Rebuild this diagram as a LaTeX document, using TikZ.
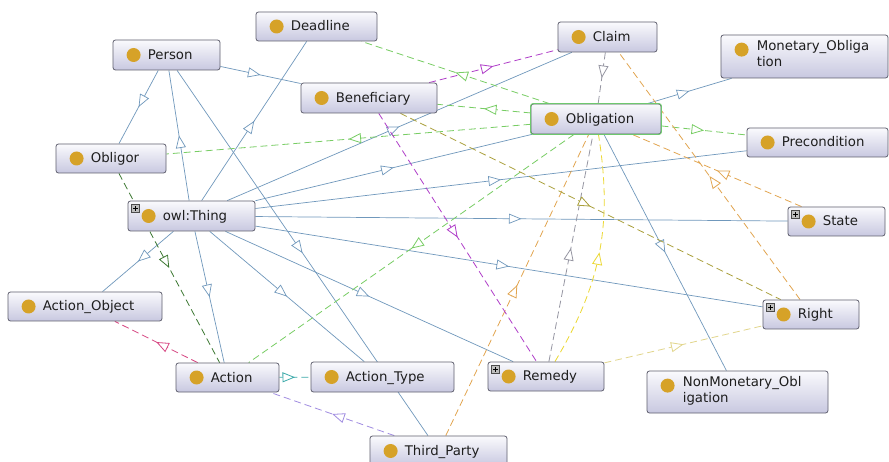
\documentclass[tikz,border=0pt]{standalone}
\usepackage{fontspec}
\setmainfont{DejaVu Sans}
\usetikzlibrary{arrows.meta,decorations.markings,backgrounds}
\pgfdeclarelayer{edgelayer}
\pgfsetlayers{background,edgelayer,main}
\definecolor{nodeborder}{RGB}{95,95,110}
\definecolor{nodetop}{RGB}{250,250,253}
\definecolor{nodebot}{RGB}{200,200,224}
\definecolor{dotc}{RGB}{214,162,40}
\definecolor{txtc}{RGB}{30,30,30}
\definecolor{selc}{RGB}{110,200,110}
\definecolor{isac}{RGB}{112,152,188}
\definecolor{greenc}{RGB}{120,205,100}
\definecolor{purplec}{RGB}{175,60,200}
\definecolor{grayc}{RGB}{150,150,162}
\definecolor{orangec}{RGB}{226,165,80}
\definecolor{yelc}{RGB}{236,216,50}
\definecolor{paleyelc}{RGB}{226,214,140}
\definecolor{olivec}{RGB}{170,160,60}
\definecolor{dgreenc}{RGB}{60,120,50}
\definecolor{pinkc}{RGB}{215,70,130}
\definecolor{tealc}{RGB}{60,170,170}
\definecolor{lavc}{RGB}{160,140,225}
\tikzset{
  cls/.style={draw=nodeborder, line width=0.8pt, rounded corners=2.5pt, top color=nodetop, bottom color=nodebot, inner sep=0pt},
  lbl/.style={anchor=base west, font=\fontsize{13.3}{15.5}\selectfont, text=txtc, inner sep=0pt, align=left},
  midarrow/.style={postaction={decorate}, decoration={markings, mark=at position 0.5 with {\arrow{Triangle[open, length=12.5pt, width=10pt, fill=white]}}}},
  isa/.style={color=isac, line width=0.7pt, midarrow},
  rel/.style={color=#1, line width=0.8pt, dash pattern=on 7pt off 4pt, midarrow},
  plusbox/.style={draw=black!70, fill=black!25, line width=0.4pt},
}
\newcommand\oclass[6]{%
  \node[cls, minimum width=#4pt, minimum height=#5pt] (#1) at (#2,#3) {};
  \fill[dotc] ([xshift=21pt]#1.west) circle (7pt);
  \node[lbl] at ([xshift=35pt,yshift=-4.5pt]#1.west) {#6};
}
\newcommand\oclasstwo[6]{%
  \node[cls, minimum width=#4pt, minimum height=#5pt] (#1) at (#2,#3) {};
  \fill[dotc] ([xshift=21pt,yshift=-15pt]#1.north west) circle (7pt);
  \node[lbl, anchor=north west] at ([xshift=36pt,yshift=-6pt]#1.north west) {#6};
}
\newcommand\expandmark[1]{%
  \draw[plusbox] ([xshift=4pt,yshift=-4pt]#1.north west) rectangle ++(8pt,-8pt);
  \draw[black, line width=0.6pt] ([xshift=5.8pt,yshift=-8pt]#1.north west) -- ++(4.4pt,0pt);
  \draw[black, line width=0.6pt] ([xshift=8pt,yshift=-5.8pt]#1.north west) -- ++(0pt,-4.4pt);
}
\begin{document}
\begin{tikzpicture}[x=1pt,y=-1pt]
\useasboundingbox (0,0) rectangle (889,462);
\begin{pgfonlayer}{background}
\fill[white] (0,0) rectangle (889,462);
\end{pgfonlayer}
% classes
\oclass{deadline}{316.5}{26.5}{121}{29}{Deadline}
\oclass{person}{166.5}{55}{107}{30}{Person}
\oclass{claim}{607.5}{37}{99}{30}{Claim}
\oclasstwo{monetary}{804.5}{56.5}{167}{43}{Monetary\_Obliga\\tion}
\oclass{beneficiary}{369}{98}{136}{30}{Beneficiary}
\oclass{obligation}{596}{119}{130}{30}{Obligation}
\draw[selc, line width=1pt, rounded corners=2.5pt] (obligation.south west) rectangle (obligation.north east);
\oclass{precondition}{817.5}{142.5}{141}{29}{Precondition}
\oclass{obligor}{111}{158.5}{110}{29}{Obligor}
\oclass{thing}{191.5}{216}{127}{30}{owl:Thing}
\expandmark{thing}
\oclass{state}{836.5}{221.5}{97}{29}{State}
\expandmark{state}
\oclass{actionobject}{85}{306.5}{154}{29}{Action\_Object}
\oclass{right}{811}{314.5}{96}{29}{Right}
\expandmark{right}
\oclass{action}{227.5}{377.5}{103}{29}{Action}
\oclass{actiontype}{382.5}{377}{143}{30}{Action\_Type}
\oclass{remedy}{546}{376.5}{116}{29}{Remedy}
\expandmark{remedy}
\oclasstwo{nonmonetary}{737.5}{392}{181}{42}{NonMonetary\_Obl\\igation}
\oclass{thirdparty}{438.5}{451}{137}{30}{Third\_Party}
% connectors
\begin{pgfonlayer}{edgelayer}
\draw[isa] (thing) -- (person);
\draw[isa] (thing) -- (deadline);
\draw[isa] (thing) -- (claim);
\draw[isa] (thing) -- (obligation);
\draw[isa] (thing) -- (precondition);
\draw[isa] (thing) -- (state);
\draw[isa] (thing) -- (right);
\draw[isa] (thing) -- (remedy);
\draw[isa] (thing) -- (actiontype);
\draw[isa] (thing) -- (action);
\draw[isa] (thing) -- (actionobject);
\draw[isa] (person) -- (beneficiary);
\draw[isa] (person) -- (obligor);
\draw[isa] (person) -- (thirdparty);
\draw[isa] (obligation) -- (monetary);
\draw[isa] (obligation) -- (nonmonetary);
\draw[rel=purplec] (beneficiary) -- (claim);
\draw[rel=greenc] (obligation) -- (deadline);
\draw[rel=greenc] (obligation) -- (beneficiary);
\draw[rel=greenc] (obligation) -- (obligor);
\draw[rel=greenc] (obligation) -- (precondition);
\draw[rel=greenc] (obligation) -- (action);
\draw[rel=grayc] (claim) -- (obligation);
\draw[rel=orangec] (right) -- (claim);
\draw[rel=orangec] (state) -- (obligation);
\draw[rel=orangec] (thirdparty) -- (obligation);
\draw[rel=grayc] (remedy) -- (obligation);
\draw[rel=yelc] (remedy) to[bend right=20] (obligation);
\draw[rel=paleyelc] (remedy) -- (right);
\draw[rel=olivec] (beneficiary) -- (right);
\draw[rel=purplec] (beneficiary) -- (remedy);
\draw[rel=dgreenc] (obligor) -- (action);
\draw[rel=pinkc] (action) -- (actionobject);
\draw[rel=tealc] (action) -- (actiontype);
\draw[rel=lavc] (thirdparty) -- (action);
\end{pgfonlayer}
\end{tikzpicture}
\end{document}
